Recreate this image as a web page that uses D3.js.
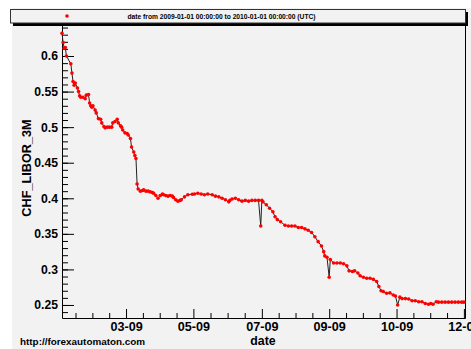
<html>
<head>
<title>CHF LIBOR 3M 2009</title>
<script src="https://d3js.org/d3.v7.min.js"></script>
<style>
    body { margin: 0; background: #ffffff; }
    text { font-family: "Liberation Sans", Arial, Helvetica, sans-serif; font-weight: bold; fill: #000; }
</style>
</head>
<body>
<script>
// data
var dates = [
    "2009-01-01","2009-01-02","2009-01-03","2009-01-04","2009-01-05","2009-01-09","2009-01-10","2009-01-11",
    "2009-01-12","2009-01-13","2009-01-15","2009-01-16","2009-01-17","2009-01-18","2009-01-20","2009-01-22",
    "2009-01-23","2009-01-25","2009-01-26","2009-01-27","2009-01-28","2009-01-29","2009-01-31",
    "2009-02-01","2009-02-03","2009-02-05","2009-02-06","2009-02-08","2009-02-09","2009-02-11","2009-02-13",
    "2009-02-15","2009-02-16","2009-02-18","2009-02-20","2009-02-21","2009-02-23","2009-02-24","2009-02-25",
    "2009-02-27",
    "2009-03-01","2009-03-02","2009-03-04","2009-03-05","2009-03-07","2009-03-08","2009-03-09","2009-03-10",
    "2009-03-11","2009-03-13","2009-03-15","2009-03-16","2009-03-18","2009-03-20","2009-03-22","2009-03-24",
    "2009-03-25","2009-03-27","2009-03-29","2009-03-31",
    "2009-04-02","2009-04-03","2009-04-05","2009-04-07","2009-04-09","2009-04-11","2009-04-12","2009-04-14",
    "2009-04-16","2009-04-18","2009-04-19","2009-04-22","2009-04-25","2009-04-29",
    "2009-05-01","2009-05-04","2009-05-07","2009-05-10","2009-05-13","2009-05-17","2009-05-20","2009-05-23",
    "2009-05-26","2009-05-29",
    "2009-06-01","2009-06-02","2009-06-04","2009-06-07","2009-06-10","2009-06-13","2009-06-16","2009-06-19",
    "2009-06-22","2009-06-25","2009-06-28","2009-06-30",
    "2009-07-01","2009-07-02","2009-07-05","2009-07-08","2009-07-11","2009-07-13","2009-07-15","2009-07-18",
    "2009-07-22","2009-07-25","2009-07-28","2009-07-31",
    "2009-08-03","2009-08-06","2009-08-09","2009-08-12","2009-08-15","2009-08-18","2009-08-21","2009-08-24",
    "2009-08-26","2009-08-27","2009-08-29","2009-08-31",
    "2009-09-01","2009-09-04","2009-09-07","2009-09-10","2009-09-13","2009-09-16","2009-09-18","2009-09-21",
    "2009-09-23","2009-09-26","2009-09-28",
    "2009-10-01","2009-10-04","2009-10-07","2009-10-10","2009-10-13","2009-10-15","2009-10-17","2009-10-19",
    "2009-10-22","2009-10-25","2009-10-28","2009-10-30",
    "2009-11-01","2009-11-03","2009-11-05","2009-11-08","2009-11-11","2009-11-14","2009-11-17","2009-11-20",
    "2009-11-23","2009-11-26","2009-11-29",
    "2009-12-01","2009-12-03","2009-12-06","2009-12-08","2009-12-11","2009-12-14","2009-12-17","2009-12-20",
    "2009-12-23","2009-12-26","2009-12-29","2009-12-31"
];
var libor = [
    0.632,0.619,0.611,0.612,0.600,0.589,0.576,0.564,
    0.559,0.562,0.555,0.550,0.544,0.542,0.542,0.540,
    0.545,0.546,0.534,0.530,0.528,0.530,0.524,
    0.520,0.512,0.511,0.506,0.501,0.499,0.500,0.500,
    0.500,0.506,0.508,0.511,0.506,0.502,0.500,0.496,
    0.492,
    0.491,0.489,0.484,0.472,0.465,0.460,0.456,0.420,
    0.413,0.410,0.411,0.412,0.410,0.410,0.409,0.408,
    0.407,0.404,0.400,0.404,
    0.406,0.405,0.404,0.403,0.404,0.403,0.401,0.398,
    0.396,0.397,0.398,0.402,0.405,0.4056,
    0.406,0.407,0.406,0.405,0.406,0.405,0.403,0.402,
    0.400,0.398,
    0.395,0.397,0.399,0.400,0.398,0.396,0.397,0.396,
    0.397,0.397,0.397,0.361,
    0.397,0.395,0.391,0.386,0.381,0.374,0.370,0.367,
    0.362,0.361,0.361,0.361,
    0.359,0.359,0.357,0.355,0.352,0.346,0.339,0.333,
    0.325,0.319,0.317,0.289,
    0.314,0.309,0.309,0.309,0.308,0.305,0.298,0.297,
    0.298,0.295,0.291,
    0.289,0.2875,0.2875,0.286,0.283,0.276,0.270,0.269,
    0.2665,0.267,0.264,0.2626,
    0.250,0.261,0.259,0.259,0.2584,0.256,0.256,0.2546,
    0.2546,0.252,0.251,
    0.252,0.251,0.2546,0.254,0.254,0.254,0.254,0.254,
    0.254,0.254,0.254,0.254
];

// x axis (ROOT picks its own spacing, labels as printed)
var xTickDates = ["2009-02-28","2009-04-30","2009-07-01","2009-08-31","2009-10-31","2009-12-31"];
var xTickLabels = ["03-09","05-09","07-09","09-09","10-09","12-09"];
var yTicks = [0.25,0.3,0.35,0.4,0.45,0.5,0.55,0.6];
var yDomain = [0.2317, 0.6436];
var xDomain = ["2009-01-01","2010-01-01"];

var legendText = "date from 2009-01-01 00:00:00 to 2010-01-01 00:00:00 (UTC)";
var yTitle = "CHF_LIBOR_3M";
var xTitle = "date";
var footer = "http://forexautomaton.com";

var width = 471,
    height = 349;
var plotL = 62, plotR = 465, plotT = 25, plotB = 318;

var parse = d3.utcParse("%Y-%m-%d");
var points = dates.map(function(d, i) { return { t: parse(d), v: libor[i] }; });

var svg = d3.select("body")
    .append("svg")
    .attr("width", width)
    .attr("height", height);

// canvas background
svg.append("rect")
    .attr("x", 12).attr("y", 8)
    .attr("width", width - 12).attr("height", height - 8)
    .attr("fill", "#f2f2f2");

var x = d3.scaleUtc()
    .domain(xDomain.map(parse))
    .range([plotL, plotR]);

var y = d3.scaleLinear()
    .domain(yDomain)
    .range([plotB, plotT]);

// minor ticks
var yMinor = d3.range(24, 65).map(function(k) { return k / 100; })
    .filter(function(v) { return v >= yDomain[0] && v <= yDomain[1]; });

var xMajor = xTickDates.map(parse);
var xMinor = [];
var step = (xMajor[1] - xMajor[0]) / 4;
for (var t = +xMajor[0] - step; t >= +x.domain()[0]; t -= step) xMinor.push(new Date(t));
for (var i = 0; i < xMajor.length - 1; i++) {
    var s = (xMajor[i + 1] - xMajor[i]) / 4;
    for (var k = 1; k < 4; k++) xMinor.push(new Date(+xMajor[i] + k * s));
}

svg.append("g")
    .attr("transform", "translate(" + plotL + ",0)")
    .call(d3.axisLeft(y).tickValues(yMinor).tickSize(-6).tickFormat(""))
    .call(function(g) { g.select(".domain").remove(); });

var yAxis = svg.append("g")
    .attr("transform", "translate(" + plotL + ",0)")
    .call(d3.axisLeft(y).tickValues(yTicks).tickSize(-12).tickPadding(4)
        .tickFormat(function(d) { return String(+d.toFixed(2)); }))
    .call(function(g) { g.select(".domain").remove(); });
yAxis.selectAll("text")
    .style("font-size", "12.2px")
    .style("font-family", "'Liberation Sans', Arial, sans-serif")
    .style("font-weight", "bold");

svg.append("g")
    .attr("transform", "translate(0," + plotB + ")")
    .call(d3.axisBottom(x).tickValues(xMinor).tickSize(-5).tickFormat(""))
    .call(function(g) { g.select(".domain").remove(); });

var xAxis = svg.append("g")
    .attr("transform", "translate(0," + plotB + ")")
    .call(d3.axisBottom(x).tickValues(xMajor).tickSize(-9).tickPadding(4)
        .tickFormat(function(d, i) { return xTickLabels[i]; }))
    .call(function(g) { g.select(".domain").remove(); });
xAxis.selectAll("text")
    .style("font-size", "12.6px")
    .style("font-family", "'Liberation Sans', Arial, sans-serif")
    .style("font-weight", "bold");

svg.selectAll(".tick line").attr("stroke", "#000");

// frame
svg.append("path")
    .attr("d", "M" + (plotL + 0.5) + "," + plotT + "V" + (plotB + 0.5) + "H" + (plotR + 0.5) + "V" + plotT)
    .attr("fill", "none")
    .attr("stroke", "#000")
    .attr("stroke-width", 1);

// the series: thin black line, red markers
var line = d3.line()
    .x(function(d) { return x(d.t); })
    .y(function(d) { return y(d.v); });

svg.append("path")
    .datum(points)
    .attr("d", line)
    .attr("fill", "none")
    .attr("stroke", "#222")
    .attr("stroke-width", 1);

svg.append("g")
    .selectAll("circle")
    .data(points)
    .enter()
    .append("circle")
    .attr("cx", function(d) { return x(d.t); })
    .attr("cy", function(d) { return y(d.v); })
    .attr("r", 1.8)
    .attr("fill", "#ff0000");

// legend box with shadow
svg.append("rect")
    .attr("x", 13).attr("y", 12)
    .attr("width", 455).attr("height", 14)
    .attr("fill", "#000");
svg.append("rect")
    .attr("x", 10.5).attr("y", 9.5)
    .attr("width", 455).attr("height", 13.5)
    .attr("fill", "#f2f2f2")
    .attr("stroke", "#333")
    .attr("stroke-width", 1);
svg.append("circle")
    .attr("cx", 67).attr("cy", 16)
    .attr("r", 1.8)
    .attr("fill", "#ff0000");
svg.append("text")
    .attr("x", 221.5).attr("y", 18.6)
    .attr("text-anchor", "middle")
    .style("font-size", "6.7px")
    .text(legendText);

// titles
svg.append("text")
    .attr("transform", "translate(31,168) rotate(-90)")
    .attr("text-anchor", "middle")
    .style("font-size", "12.7px")
    .text(yTitle);

svg.append("text")
    .attr("x", 263).attr("y", 345)
    .attr("text-anchor", "middle")
    .style("font-size", "12.3px")
    .text(xTitle);

svg.append("text")
    .attr("x", 20).attr("y", 345)
    .style("font-size", "9.9px")
    .text(footer);
</script>
</body>
</html>
